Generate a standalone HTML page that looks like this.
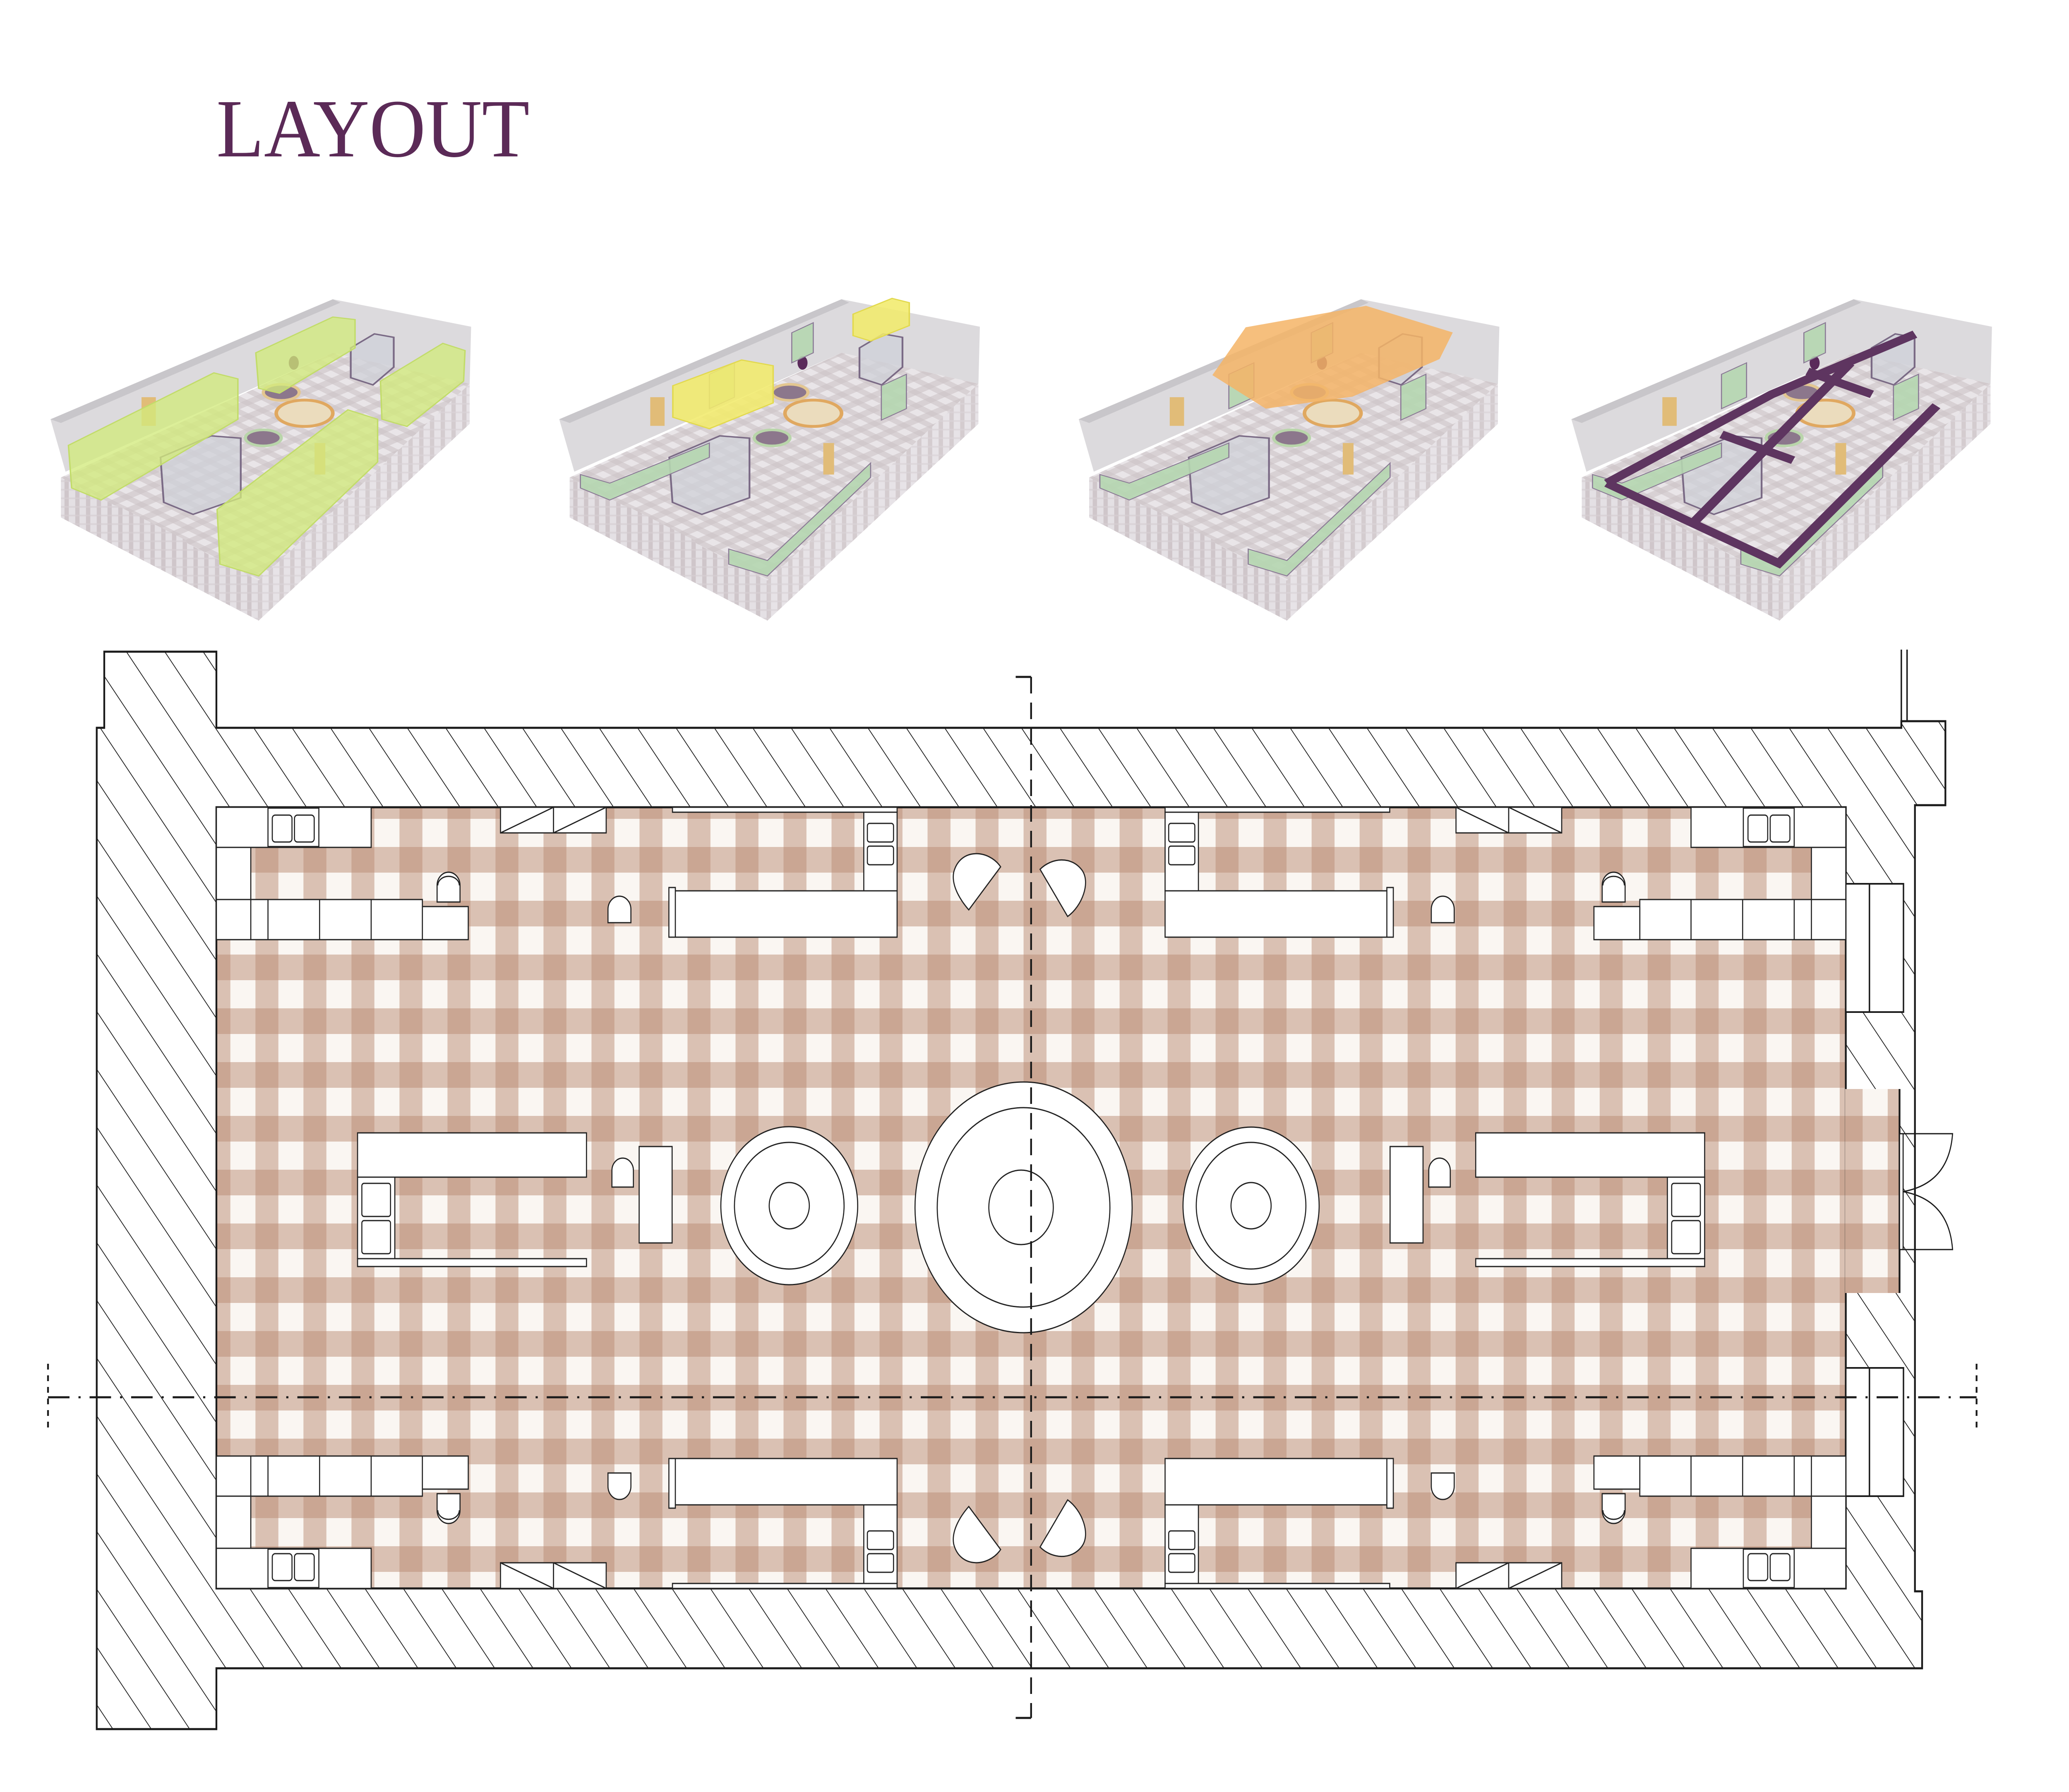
<!DOCTYPE html>
<html><head><meta charset="utf-8">
<style>html,body{margin:0;padding:0;background:#fff;width:100%;height:100%;overflow:hidden;}svg{display:block;width:100vw;height:100vh;}</style>
</head><body>
<svg xmlns="http://www.w3.org/2000/svg" width="5775" height="4331" viewBox="0 0 5775 4331" preserveAspectRatio="none">
<defs>
<pattern id="hatch" patternUnits="userSpaceOnUse" width="85" height="40" patternTransform="rotate(-37.5)">
<rect width="85" height="40" fill="#fff"/><line x1="0" y1="0" x2="0" y2="40" stroke="#1a1a1a" stroke-width="4"/>
</pattern>
<pattern id="ging" patternUnits="userSpaceOnUse" x="43" y="97" width="134" height="130">
<rect width="134" height="130" fill="#faf6f2"/>
<rect x="0" y="0" width="64" height="130" fill="rgb(185,140,115)" fill-opacity="0.5"/>
<rect x="0" y="0" width="134" height="62" fill="rgb(185,140,115)" fill-opacity="0.5"/>
</pattern>
<pattern id="g3d" patternUnits="userSpaceOnUse" width="44" height="44" patternTransform="rotate(-28) skewX(30)">
<rect width="44" height="44" fill="#e9e5e8"/>
<rect width="20" height="44" fill="#cdc3c6" fill-opacity="0.6"/>
<rect width="44" height="20" fill="#cdc3c6" fill-opacity="0.6"/>
</pattern>
<pattern id="stripe3d" patternUnits="userSpaceOnUse" width="30" height="30">
<rect width="30" height="30" fill="#e4e0e4"/>
<rect width="12" height="30" fill="#cfc6ca"/>
<rect width="30" height="6" fill="#d6cfd3" fill-opacity="0.7"/>
</pattern>
<g id="base3d">
<polygon points="141,1197 929,778 1315,874 1311,1073 929,965 183,1380" fill="#dcdadd"/>
<polygon points="141,1197 929,778 950,790 170,1210" fill="#c8c6ca"/>
<polygon points="170,1400 929,965 1311,1073 722,1760" fill="url(#g3d)"/>
<polygon points="170,1400 722,1760 722,1900 170,1540" fill="url(#stripe3d)"/>
<polygon points="330,1500 520,1620 520,1760 330,1640" fill="url(#stripe3d)"/>
<polygon points="722,1760 1311,1073 1311,1213 722,1900" fill="url(#stripe3d)" opacity="0.9"/>
<ellipse cx="850" cy="1176" rx="79" ry="46" fill="#ebdcbd" stroke="#e0a860" stroke-width="10"/>
<ellipse cx="785" cy="1103" rx="50" ry="28" fill="#8c778c" stroke="#e3c690" stroke-width="9"/>
<ellipse cx="735" cy="1262" rx="50" ry="28" fill="#8c778c" stroke="#b9d5aa" stroke-width="9"/>
<polygon points="448,1330 589,1255 672,1263 672,1471 539,1529 457,1487" fill="#cfd0d8" fill-opacity="0.75" stroke="#7a6a85" stroke-width="5"/>
<polygon points="979,948 1045,899 1099,911 1099,1015 1041,1077 979,1052" fill="#cfd0d8" fill-opacity="0.75" stroke="#7a6a85" stroke-width="5"/>
<rect x="395" y="1120" width="40" height="100" fill="#e1bc78"/>
<rect x="878" y="1280" width="30" height="110" fill="#e1bc78"/>
<ellipse cx="820" cy="1000" rx="14" ry="24" fill="#5a2a5a"/>
</g>
<g id="mint3d">
<polygon points="200,1437 282,1479 560,1330 560,1280 282,1420 200,1390" fill="#b5d6b0" fill-opacity="0.9" stroke="#8a7a95" stroke-width="3"/>
<polygon points="614,1703 722,1744 1010,1400 1010,1350 722,1690 614,1650" fill="#b5d6b0" fill-opacity="0.9" stroke="#8a7a95" stroke-width="3"/>
<polygon points="560,1160 630,1120 630,1000 560,1040" fill="#b5d6b0" fill-opacity="0.9" stroke="#8a7a95" stroke-width="3"/>
<polygon points="1040,1200 1110,1160 1110,1040 1040,1080" fill="#b5d6b0" fill-opacity="0.9" stroke="#8a7a95" stroke-width="3"/>
<polygon points="790,1000 850,965 850,860 790,895" fill="#b5d6b0" fill-opacity="0.9" stroke="#8a7a95" stroke-width="3"/>
</g>
<g id="corner" fill="#fff" stroke="#222" stroke-width="3">
<rect x="604" y="1951" width="432" height="97"/>
<rect x="748" y="1953" width="142" height="93"/>
<rect x="760" y="1970" width="55" height="65" rx="8"/>
<rect x="822" y="1970" width="55" height="65" rx="8"/>
<rect x="604" y="2048" width="96" height="126"/>
<rect x="604" y="2174" width="575" height="97"/>
<line x1="700" y1="2174" x2="700" y2="2271"/><line x1="748" y1="2174" x2="748" y2="2271"/>
<line x1="892" y1="2174" x2="892" y2="2271"/><line x1="1036" y1="2174" x2="1036" y2="2271"/>
<rect x="1179" y="2191" width="128" height="80"/>
<path d="M1220,2180 V2140 A32,32 0 0 1 1284,2140 V2180 Z"/>
<path d="M1222,2140 A30,22 0 0 1 1282,2140" fill="none"/>
<rect x="1397" y="1951" width="148" height="62"/><rect x="1545" y="1951" width="147" height="62"/>
<line x1="1397" y1="2013" x2="1545" y2="1951"/><line x1="1545" y1="2013" x2="1692" y2="1951"/>
<rect x="1877" y="1951" width="627" height="12"/>
<rect x="2411" y="1963" width="93" height="190"/>
<rect x="2421" y="1990" width="73" height="45" rx="6"/><rect x="2421" y="2045" width="73" height="45" rx="6"/>
<rect x="1877" y="2153" width="627" height="112"/>
<rect x="1867" y="2145" width="18" height="120"/>
<path d="M1697,2230 V2198 A32,32 0 0 1 1761,2198 V2230 Z"/>
</g>
<g id="mid" fill="#fff" stroke="#222" stroke-width="3">
<rect x="998" y="2738" width="639" height="107"/>
<rect x="998" y="2845" width="104" height="197"/>
<rect x="1010" y="2860" width="80" height="80" rx="6"/><rect x="1010" y="2950" width="80" height="80" rx="6"/>
<rect x="998" y="3042" width="639" height="19"/>
<rect x="1784" y="2771" width="92" height="233"/>
<path d="M1708,2869 V2829 A30,30 0 0 1 1768,2829 V2869 Z"/>
</g>
<g id="fans" fill="#fff" stroke="#222" stroke-width="3">
<path d="M2704,2199 L2793,2095 C2760,2053 2680,2048 2662,2108 C2655,2140 2680,2175 2704,2199 Z"/>
<path d="M2980,2215 L2903,2101 C2935,2073 2990,2068 3020,2103 C3045,2133 3020,2190 2980,2215 Z"/>
</g>
</defs>

<text x="604" y="378" font-family="Liberation Serif, serif" font-size="200" fill="#5b2a57" textLength="874" lengthAdjust="spacingAndGlyphs">LAYOUT</text>

<!-- 3D renders -->
<g transform="matrix(1,0,0,0.6923,0,184.6)">
<use href="#base3d"/>
<g fill="#d2ea7c" fill-opacity="0.78" stroke="#c2dc6a" stroke-width="4">
<polygon points="191,1288 597,1035 664,1056 664,1197 282,1479 200,1437"/>
<polygon points="606,1512 971,1164 1054,1197 1054,1346 722,1744 614,1703"/>
<polygon points="714,965 929,840 991,849 991,948 780,1106 722,1089"/>
<polygon points="1062,1064 1236,932 1298,957 1294,1064 1136,1222 1066,1197"/>
</g>
</g>
<g transform="matrix(1,0,0,0.6923,1420,184.6)">
<use href="#base3d"/><use href="#mint3d"/>
<g fill="#f1ea6c" fill-opacity="0.88" stroke="#e2d94e" stroke-width="4">
<polygon points="458,1080 650,990 738,1010 738,1140 560,1230 458,1190"/>
<polygon points="961,830 1070,775 1118,790 1118,870 1010,924 961,905"/>
</g>
</g>
<g transform="matrix(1,0,0,0.6923,2870,184.6)">
<use href="#base3d"/><use href="#mint3d"/>
<polygon points="607,876 943,801 1185,894 1148,987 905,1118 663,1160 514,1043" fill="#f4b466" fill-opacity="0.85"/>
</g>
<g transform="matrix(1,0,0,0.6923,4245,184.6)">
<use href="#base3d"/><use href="#mint3d"/>
<g stroke="#5e3560" stroke-width="28" fill="none">
<polyline points="240,1420 720,1700 1160,1150"/>
<polyline points="240,1420 700,1110 1100,900"/>
<polyline points="480,1560 920,1000"/>
<line x1="560" y1="1250" x2="760" y2="1340"/>
<line x1="800" y1="1030" x2="980" y2="1110"/>
</g>
</g>

<!-- PLAN walls -->
<path d="M270,1759 L291,1759 L291,1575 L604,1575 L604,1759 L5307,1759 L5307,1743 L5430,1743 L5430,1946 L5345,1946 L5345,3846 L5365,3846 L5365,4032 L604,4032 L604,4179 L270,4179 Z" fill="url(#hatch)" stroke="#1a1a1a" stroke-width="5"/>
<line x1="5307" y1="1570" x2="5307" y2="1743" stroke="#1a1a1a" stroke-width="4"/>
<line x1="5323" y1="1570" x2="5323" y2="1743" stroke="#1a1a1a" stroke-width="4"/>
<!-- floor -->
<rect x="604" y="1951" width="4548" height="1888" fill="url(#ging)" stroke="#1a1a1a" stroke-width="5"/>
<rect x="5150" y="2632" width="152" height="493" fill="url(#ging)"/>
<line x1="5302" y1="2632" x2="5302" y2="3125" stroke="#1a1a1a" stroke-width="5"/>
<!-- windows -->
<g fill="#fff" stroke="#1a1a1a" stroke-width="4">
<rect x="5152" y="2136" width="161" height="310"/><line x1="5218" y1="2136" x2="5218" y2="2446"/>
<rect x="5152" y="3306" width="161" height="310"/><line x1="5218" y1="3306" x2="5218" y2="3616"/>
</g>
<!-- door -->
<g fill="none" stroke="#1a1a1a" stroke-width="3">
<rect x="5302" y="2740" width="10" height="280" fill="#fff"/>
<path d="M5312,2740 H5450 Q5440,2860 5312,2880"/>
<path d="M5312,3020 H5450 Q5440,2900 5312,2880"/>
</g>

<!-- furniture -->
<use href="#corner"/>
<use href="#corner" transform="matrix(-1,0,0,1,5756,0)"/>
<use href="#corner" transform="matrix(1,0,0,-1,0,5790)"/>
<use href="#corner" transform="matrix(-1,0,0,-1,5756,5790)"/>
<use href="#mid"/>
<use href="#mid" transform="matrix(-1,0,0,1,5756,0)"/>
<use href="#fans"/>
<use href="#fans" transform="matrix(1,0,0,-1,0,5840)"/>

<!-- tables -->
<g fill="#fff" stroke="#222" stroke-width="3">
<circle cx="2857" cy="2918" r="303"/><circle cx="2857" cy="2918" r="241"/><circle cx="2850" cy="2918" r="90"/>
<circle cx="2203" cy="2914" r="191"/><circle cx="2203" cy="2914" r="153"/><circle cx="2203" cy="2914" r="56"/>
<circle cx="3492" cy="2914" r="190"/><circle cx="3492" cy="2914" r="153"/><circle cx="3492" cy="2914" r="56"/>
</g>

<!-- center lines -->
<g stroke="#1a1a1a" stroke-width="5" fill="none">
<line x1="2878" y1="1636" x2="2878" y2="4152" stroke-dasharray="40,22"/>
<line x1="134" y1="3377" x2="5517" y2="3377" stroke-dasharray="60,25,6,25"/>
<line x1="2835" y1="1636" x2="2878" y2="1636"/><line x1="2835" y1="4152" x2="2878" y2="4152"/>
<line x1="134" y1="3296" x2="134" y2="3458" stroke-dasharray="14,14"/>
<line x1="5517" y1="3296" x2="5517" y2="3458" stroke-dasharray="14,14"/>
</g>
</svg>
</body></html>
